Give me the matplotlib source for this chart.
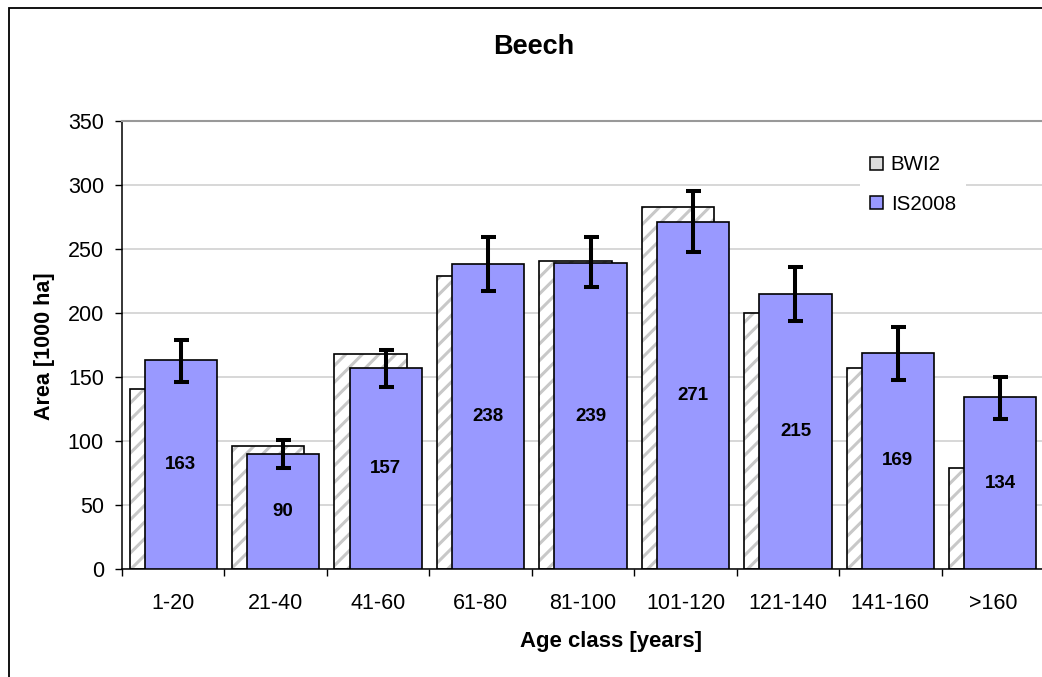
import matplotlib
matplotlib.use('Agg')
import matplotlib.pyplot as plt
import numpy as np
from matplotlib.patches import Rectangle, Patch

categories = ['1-20', '21-40', '41-60', '61-80', '81-100', '101-120', '121-140', '141-160', '>160']
bwi2 = [141, 96, 168, 229, 241, 283, 200, 157, 79]
is2008 = [163, 90, 157, 238, 239, 271, 215, 169, 134]
err_upper = [179, 101, 171, 259, 259, 295, 236, 189, 150]
err_lower = [146, 79, 142, 217, 220, 248, 194, 148, 117]

plt.rcParams['font.family'] = ['Liberation Sans', 'DejaVu Sans']
plt.rcParams['hatch.linewidth'] = 2.2

W, H = 1042, 677
fig = plt.figure(figsize=(W / 100, H / 100), dpi=100)

# outer frame
fig.patches.append(Rectangle((8.5 / W, -0.1), 1.2, 1 - 7.5 / H + 0.1, transform=fig.transFigure,
                             fill=False, edgecolor='black', linewidth=1.3))

left, right, bottom, top = 122, 1044, 569, 121
ax = fig.add_axes([left / W, 1 - bottom / H, (right - left) / W, (bottom - top) / H])

x = np.arange(len(categories))
bw = 0.705
off = 0.074

# BWI2 hatched bars
ax.bar(x - off, bwi2, width=bw, color='white', edgecolor='#c8c8c8', hatch='//', linewidth=0, zorder=2)
ax.bar(x - off, bwi2, width=bw, fill=False, edgecolor='black', linewidth=1.2, zorder=2.1)

# IS2008 bars
ax.bar(x + off, is2008, width=bw, color='#9999ff', edgecolor='black', linewidth=1.2, zorder=3)

yerr = [np.array(is2008) - np.array(err_lower), np.array(err_upper) - np.array(is2008)]
ax.errorbar(x + off, is2008, yerr=yerr, fmt='none', ecolor='black', elinewidth=2.9,
            capsize=5.4, capthick=2.9, zorder=4)

for xi, v in zip(x + off, is2008):
    ax.text(xi, v / 2, str(v), ha='center', va='center', fontsize=13.5, fontweight='bold', zorder=5)

ax.set_xlim(-0.5, len(categories) - 0.5)
ax.set_ylim(0, 350)
ax.set_yticks(np.arange(0, 351, 50))
ax.set_xticks(x)
ax.set_xticklabels(categories)
ax.set_xticks(np.arange(-0.5, len(categories), 1.0), minor=True)
ax.tick_params(axis='x', which='major', length=0, pad=17.5, labelsize=15.5)
ax.tick_params(axis='x', which='minor', length=5, width=1, direction='out', color='black')
ax.tick_params(axis='y', length=5, width=1, pad=8, labelsize=15.5)

ax.yaxis.grid(True, color='#d4d4d4', linewidth=1.3, zorder=0)
ax.set_axisbelow(True)

ax.spines['right'].set_visible(False)
ax.spines['top'].set_color('#999999')
ax.spines['top'].set_linewidth(1.5)
ax.spines['left'].set_linewidth(1.1)
ax.spines['bottom'].set_linewidth(1.1)

fig.text(534 / W, 1 - 47 / H, 'Beech', ha='center', va='center', fontsize=19.5, fontweight='bold')
fig.text(45 / W, 1 - 346 / H, 'Area [1000 ha]', ha='center', va='center', rotation=90,
         fontsize=15.5, fontweight='bold')
fig.text(611 / W, 1 - 641 / H, 'Age class [years]', ha='center', va='center',
         fontsize=15.9, fontweight='bold')

handles = [Patch(facecolor='#dcdcdc', edgecolor='black', linewidth=1.1),
           Patch(facecolor='#9999ff', edgecolor='black', linewidth=1.1)]
leg = fig.legend(handles, ['BWI2', 'IS2008'], loc='upper left',
                 bbox_to_anchor=(860 / W, 1 - 145 / H), frameon=True, fontsize=14.8,
                 handlelength=0.6, handleheight=0.6, handletextpad=0.4, labelspacing=1.0,
                 borderpad=0.5, borderaxespad=0)
leg.get_frame().set_facecolor('white')
leg.get_frame().set_edgecolor('none')
leg.get_frame().set_alpha(1)

fig.savefig('out.png', dpi=100)
